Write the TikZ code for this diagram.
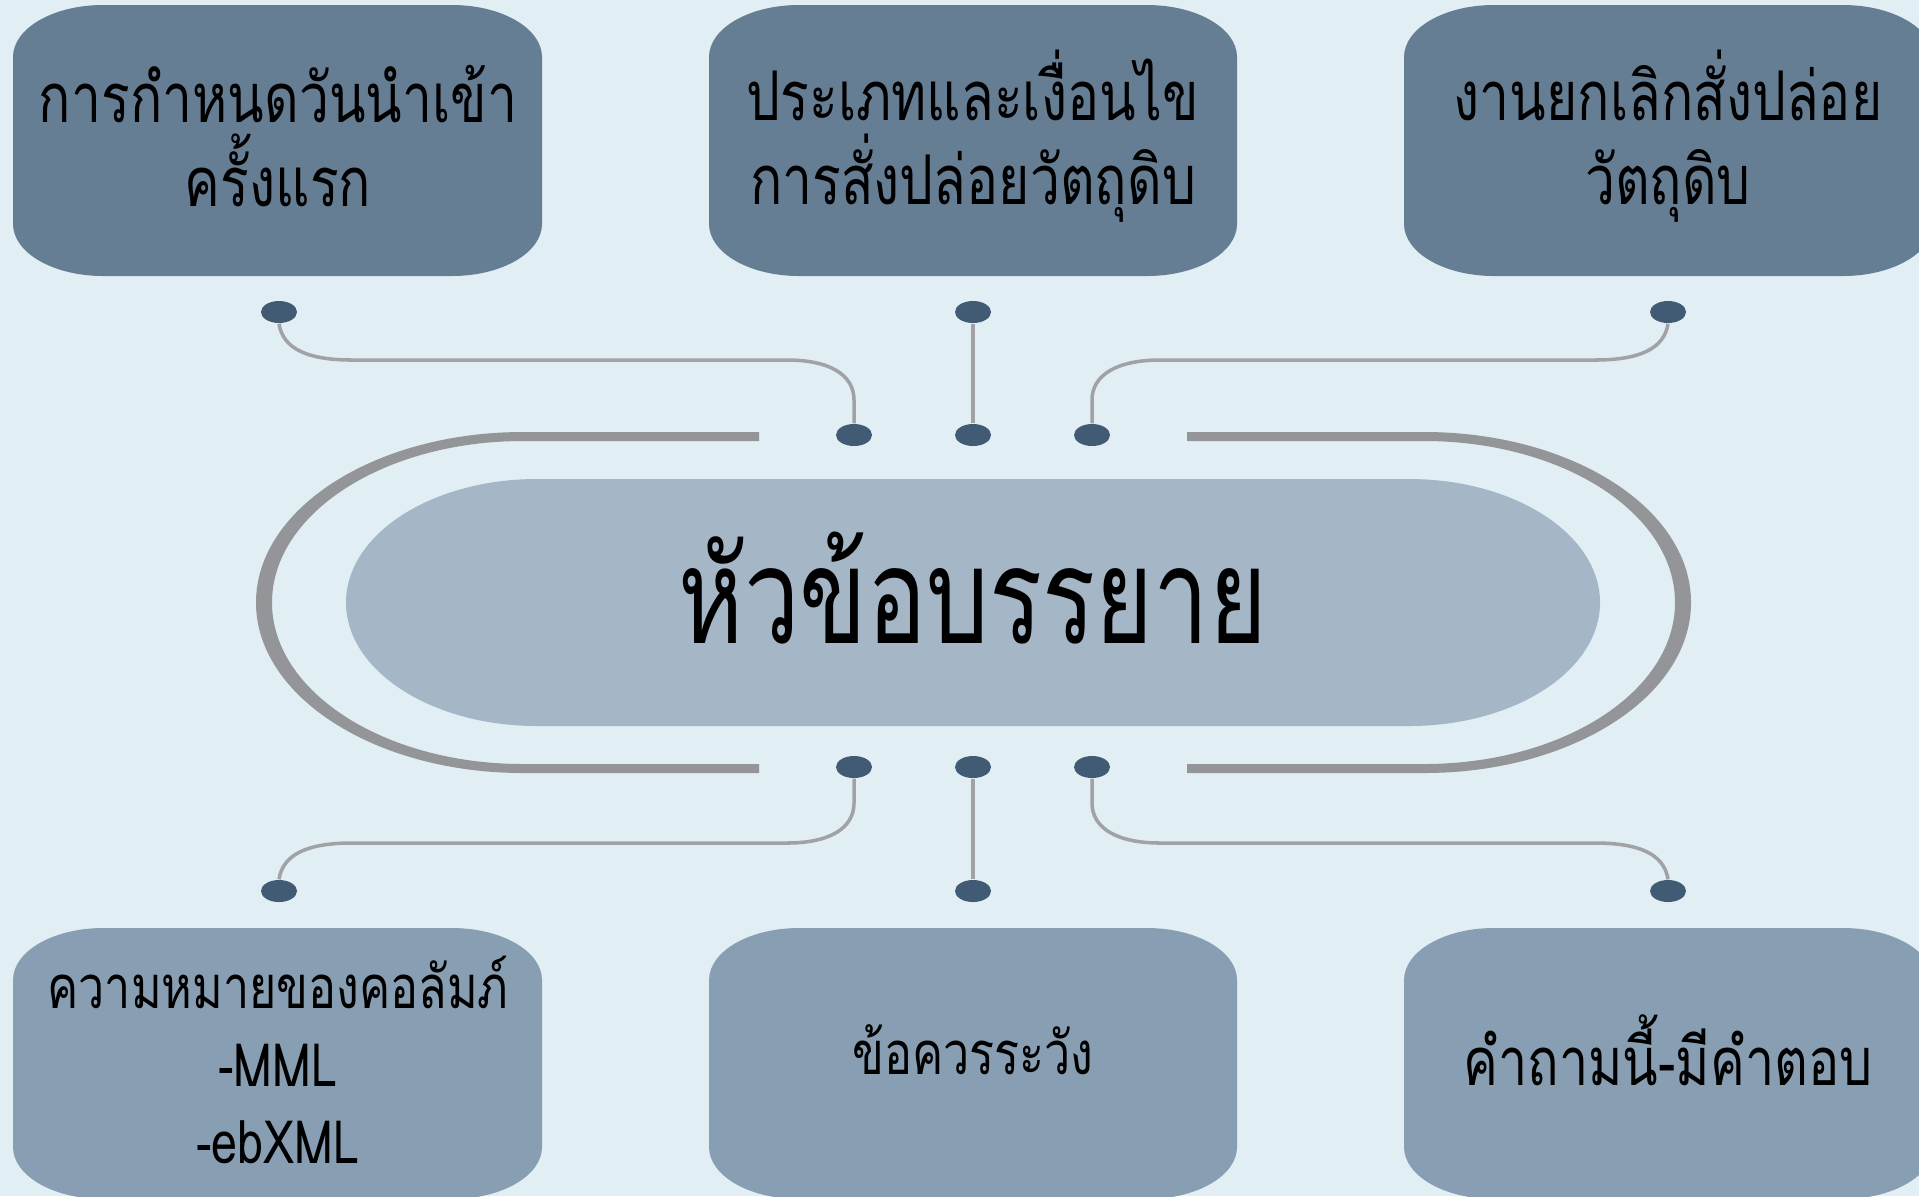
\documentclass[tikz,border=0pt]{standalone}
\usepackage{fontspec}
\usepackage{xcolor}
\usepackage{tikz}
\usetikzlibrary{shapes.geometric, positioning}
\newfontfamily\thaifont[Script=Thai, FakeStretch=0.78]{Loma}
\newfontfamily\titlefont[Script=Thai, FakeStretch=0.74]{Loma}

\definecolor{bgblue}{HTML}{E1EEF4}
\definecolor{topbox}{HTML}{667E94}
\definecolor{lowbox}{HTML}{889FB3}
\definecolor{pillblue}{HTML}{A5B6C7}
\definecolor{ringgray}{HTML}{939598}
\definecolor{wiregray}{HTML}{A0A2A5}
\definecolor{pindot}{HTML}{415B74}

% box with wide (elliptic) corners: x1, y1, x2, y2, fill
\newcommand{\panel}[5]{%
  \fill[#5] ({#1+90},#2) -- ({#3-90},#2) arc[start angle=-90,end angle=0,x radius=90,y radius=52]
    -- (#3,{#4-52}) arc[start angle=0,end angle=90,x radius=90,y radius=52]
    -- ({#1+90},#4) arc[start angle=90,end angle=180,x radius=90,y radius=52]
    -- (#1,{#2+52}) arc[start angle=180,end angle=270,x radius=90,y radius=52] -- cycle;}

\tikzset{
  pin/.style={ellipse, fill=pindot, minimum width=0.36cm, minimum height=0.22cm, inner sep=0pt},
  wire/.style={draw=wiregray, line width=1pt},
  toptext/.style={font=\thaifont\fontsize{19.5}{24}\selectfont, align=center, text=black},
  lowtext/.style={font=\thaifont\fontsize{17}{22}\selectfont, align=center, text=black}
}

\begin{document}
\begin{tikzpicture}[x=0.01cm, y=-0.01cm]
  % canvas
  \useasboundingbox (0,0) rectangle (1919,1196);
  \clip (0,0) rectangle (1919,1196);
  \fill[bgblue] (0,0) rectangle (1919,1196);
  % upper boxes
  \panel{13}{5}{542}{276}{topbox}
  \panel{709}{5}{1237}{276}{topbox}
  \panel{1404}{5}{1933}{276}{topbox}
  % lower boxes
  \panel{13}{928}{542}{1199}{lowbox}
  \panel{709}{928}{1237}{1199}{lowbox}
  \panel{1404}{928}{1933}{1199}{lowbox}
  % open ring round the title
  \fill[ringgray] (759,432) -- (523,432) arc[start angle=270,end angle=90,x radius=267,y radius=170.5]
    -- (759,773) -- (759,764) -- (523,764) arc[start angle=90,end angle=270,x radius=251,y radius=161.5]
    -- (759,441) -- cycle;
  \fill[ringgray] (1187,432) -- (1424,432) arc[start angle=-90,end angle=90,x radius=267,y radius=170.5]
    -- (1187,773) -- (1187,764) -- (1424,764) arc[start angle=90,end angle=-90,x radius=251,y radius=161.5]
    -- (1187,441) -- cycle;
  % title pill
  \fill[pillblue] (537,479) -- (1409,479) arc[start angle=-90,end angle=90,x radius=191,y radius=123.5]
    -- (537,726) arc[start angle=90,end angle=270,x radius=191,y radius=123.5] -- cycle;
  \node[font=\titlefont\fontsize{38}{44}\selectfont] (title) at (973,588) {หัวข้อบรรยาย};
  % pins
  \node[pin] (t1) at (279,312) {};
  \node[pin] (t2) at (973,312) {};
  \node[pin] (t3) at (1668,312) {};
  \node[pin] (c1) at (854,435) {};
  \node[pin] (c2) at (973,435) {};
  \node[pin] (c3) at (1092,435) {};
  \node[pin] (d1) at (854,767) {};
  \node[pin] (d2) at (973,767) {};
  \node[pin] (d3) at (1092,767) {};
  \node[pin] (b1) at (279,891) {};
  \node[pin] (b2) at (973,891) {};
  \node[pin] (b3) at (1668,891) {};
  % wires
  \draw[wire] (t1.south) .. controls (283,350) and (310,360) .. (352,360) -- (787,360)
    .. controls (830,360) and (854,375) .. (854,400) -- (c1.north);
  \draw[wire] (t2.south) -- (c2.north);
  \draw[wire] (t3.south) .. controls (1664,350) and (1637,360) .. (1595,360) -- (1160,360)
    .. controls (1117,360) and (1092,375) .. (1092,400) -- (c3.north);
  \draw[wire] (b1.north) .. controls (283,853) and (310,843) .. (352,843) -- (787,843)
    .. controls (830,843) and (854,828) .. (854,803) -- (d1.south);
  \draw[wire] (b2.north) -- (d2.south);
  \draw[wire] (b3.north) .. controls (1664,853) and (1637,843) .. (1595,843) -- (1160,843)
    .. controls (1117,843) and (1092,828) .. (1092,803) -- (d3.south);
  % box texts
  \node[toptext] (firstdate) at (278,136) {การกำหนดวันนำเข้า\\ครั้งแรก};
  \node[toptext] (reltype) at (973,136) {ประเภทและเงื่อนไข\\การสั่งปล่อยวัตถุดิบ};
  \node[toptext] (relcancel) at (1668,136) {งานยกเลิกสั่งปล่อย\\วัตถุดิบ};
  \node[lowtext] (colmean) at (278,1060) {ความหมายของคอลัมภ์\\-MML\\-ebXML};
  \node[lowtext] (caution) at (973,1050) {ข้อควรระวัง};
  \node[lowtext, font=\thaifont\fontsize{19}{22}\selectfont] (answered) at (1668,1050) {คำถามนี้-มีคำตอบ};
\end{tikzpicture}
\end{document}
